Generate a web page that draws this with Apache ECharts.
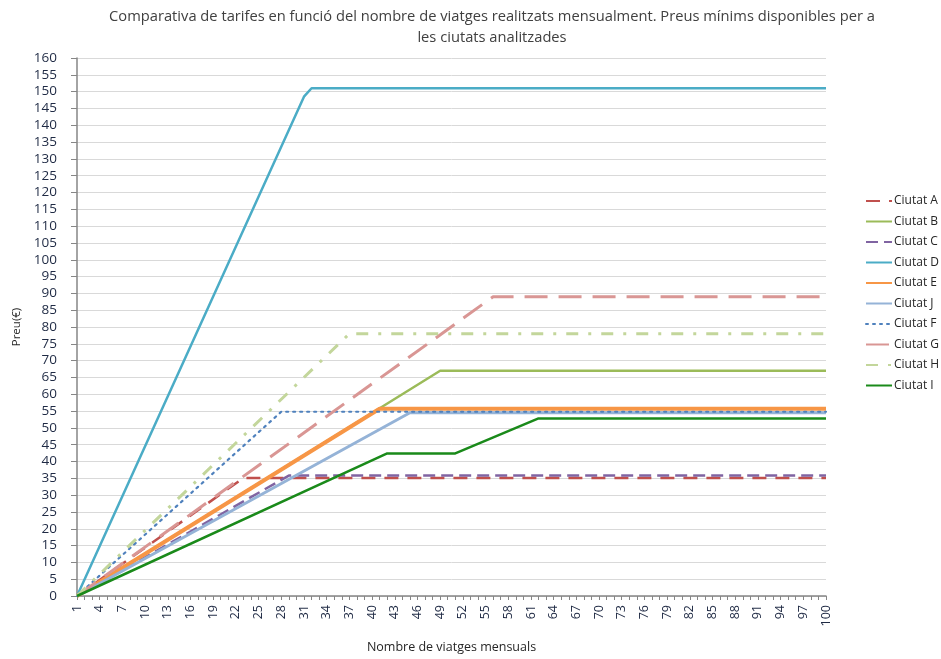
<!DOCTYPE html>
<html>
<head>
<meta charset="utf-8">
<script src="https://cdn.jsdelivr.net/npm/echarts@6/dist/echarts.min.js"></script>
<style>
  html, body { margin: 0; padding: 0; background: #fff; }
  #chart { width: 941px; height: 659px; }
</style>
</head>
<body>
<div id="chart"></div>
<script>
// Monthly trip counts shown on the x axis (1 … 100)
const trips = [];
for (let n = 1; n <= 100; n++) trips.push(String(n));

// Price curves: vertices [trips, price €] of each polyline (linear fare until the monthly cap)
const ciutatA = [[1, 0], [23, 35.1], [100, 35.1]];
const ciutatB = [[1, 0], [49, 67.0], [100, 67.0]];
const ciutatC = [[1, 0], [29, 35.8], [100, 35.8]];
const ciutatD = [[1, 0], [31, 148.5], [32, 151.0], [100, 151.0]];
const ciutatE = [[1, 0], [41, 55.7], [100, 55.7]];
const ciutatJ = [[1, 0], [45, 54.5], [100, 54.5]];
const ciutatF = [[1, 0], [28, 54.8], [100, 54.8]];
const ciutatG = [[1, 0], [56, 89.0], [100, 89.0]];
const ciutatH = [[1, 0], [37, 78.0], [100, 78.0]];
const ciutatI = [[1, 0], [42, 42.4], [51, 42.4], [62, 52.8], [100, 52.8]];

const seriesNames = ['Ciutat A', 'Ciutat B', 'Ciutat C', 'Ciutat D', 'Ciutat E',
                     'Ciutat J', 'Ciutat F', 'Ciutat G', 'Ciutat H', 'Ciutat I'];
const seriesData = [ciutatA, ciutatB, ciutatC, ciutatD, ciutatE,
                    ciutatJ, ciutatF, ciutatG, ciutatH, ciutatI];

const titleLines = [
  'Comparativa de tarifes en funció del nombre de viatges realitzats mensualment. Preus mínims disponibles per a',
  'les ciutats analitzades'
];

const styles = [
  { color: '#C0504D', width: 2.5, type: [14, 9] },
  { color: '#9BBB59', width: 2.5, type: 'solid' },
  { color: '#8064A2', width: 2.5, type: [12, 6] },
  { color: '#4BACC6', width: 2.5, type: 'solid' },
  { color: '#F79646', width: 4, type: 'solid' },
  { color: '#95B3D7', width: 3, type: 'solid' },
  { color: '#4F81BD', width: 2.2, type: [2, 5], cap: 'round' },
  { color: '#D99694', width: 3, type: [23, 11] },
  { color: '#C3D69B', width: 3, type: [12, 10, 3, 10] },
  { color: '#1A8A1A', width: 2.5, type: 'solid' }
];

const FONT = '"Open Sans", Lato, sans-serif';

const series = seriesNames.map((name, i) => ({
  name,
  type: 'line',
  symbol: 'none',
  showSymbol: false,
  animation: false,
  color: styles[i].color,
  lineStyle: {
    color: styles[i].color,
    width: styles[i].width,
    type: styles[i].type,
    cap: styles[i].cap || 'butt'
  },
  data: seriesData[i].map(p => [String(p[0]), p[1]])
}));

const chart = echarts.init(document.getElementById('chart'));
chart.setOption({
  backgroundColor: '#fff',
  animation: false,
  // Two-line centred chart heading
  graphic: titleLines.map((t, i) => ({
    type: 'text',
    x: 492,
    y: 9 + i * 21,
    silent: true,
    style: {
      text: t,
      align: 'center',
      verticalAlign: 'top',
      fontFamily: FONT,
      fontSize: 14.7,
      fill: '#404040'
    }
  })),
  legend: {
    orient: 'vertical',
    left: 860,
    top: 190,
    itemWidth: 26,
    itemHeight: 12,
    itemGap: 8.5,
    data: seriesNames,
    itemStyle: { opacity: 0 },
    textStyle: { fontFamily: FONT, fontSize: 12, color: '#262626', lineHeight: 12, padding: [0, 0, 0, -3] }
  },
  grid: { left: 77, right: 115, top: 58, bottom: 56 },
  xAxis: {
    type: 'category',
    data: trips,
    boundaryGap: false,
    name: 'Nombre de viatges mensuals',
    nameLocation: 'middle',
    nameGap: 45,
    nameTextStyle: { fontFamily: FONT, fontSize: 12.5, color: '#262626' },
    axisLine: { lineStyle: { color: '#868686', width: 1.5 } },
    axisTick: { interval: 0, length: 4, lineStyle: { color: '#868686' } },
    axisLabel: { interval: 2, rotate: 90, margin: 9, fontFamily: FONT, fontSize: 12.5, color: '#1f2a44' },
    splitLine: { show: false }
  },
  yAxis: {
    type: 'value',
    min: 0,
    max: 160,
    interval: 5,
    name: 'Preu(€)',
    nameLocation: 'middle',
    nameGap: 52,
    nameRotate: 90,
    nameTextStyle: { fontFamily: FONT, fontSize: 11.5, color: '#262626' },
    axisLine: { show: true, lineStyle: { color: '#868686', width: 1.5 } },
    axisTick: { show: true, length: 6, lineStyle: { color: '#868686' } },
    axisLabel: { margin: 20, fontFamily: FONT, fontSize: 13.5, color: '#1f2a44' },
    splitLine: { lineStyle: { color: '#D9D9D9', width: 1 } }
  },
  series
});
</script>
</body>
</html>
